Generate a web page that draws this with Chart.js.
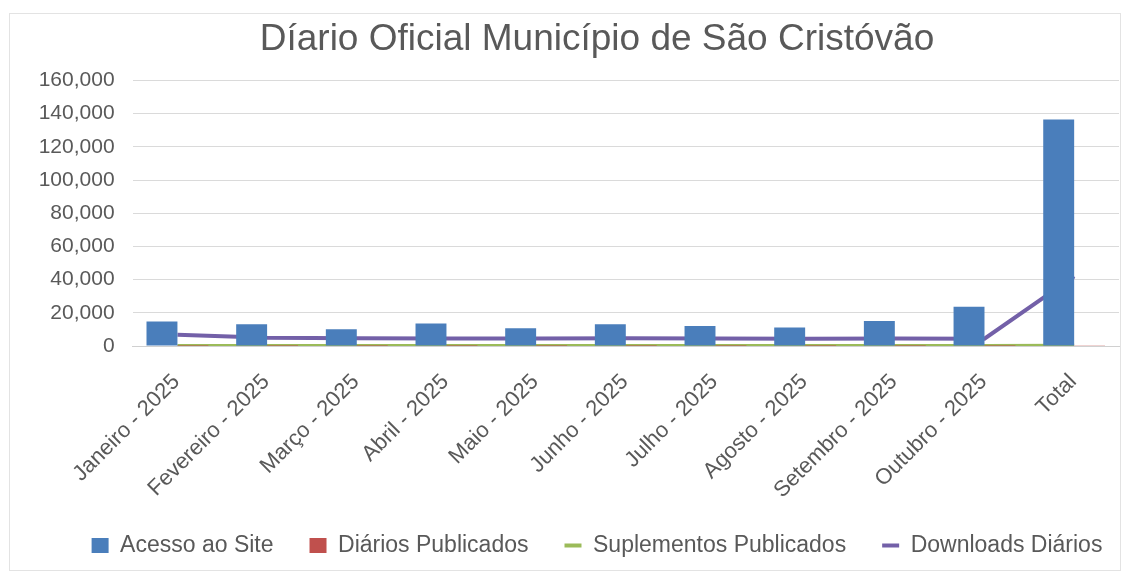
<!DOCTYPE html>
<html>
<head>
<meta charset="utf-8">
<script src="https://cdn.jsdelivr.net/npm/chart.js@4"></script>
<style>
  html, body { margin: 0; padding: 0; background: #fff; overflow: hidden; }
  #frame {
    position: absolute; left: 9px; top: 13px; width: 1112px; height: 558px;
    border: 1px solid #e3e3e3; box-sizing: border-box;
  }
  /* canvas runs past the right edge of the window so title and legend centre where the original has them */
  #wrap { position: absolute; left: 0; top: 0; width: 1194px; height: 575px; }
</style>
</head>
<body>
<div id="frame"></div>
<div id="wrap"><canvas id="chart"></canvas></div>
<script>
// categories
const months = [
  'Janeiro - 2025', 'Fevereiro - 2025', 'Março - 2025', 'Abril - 2025',
  'Maio - 2025', 'Junho - 2025', 'Julho - 2025', 'Agosto - 2025',
  'Setembro - 2025', 'Outubro - 2025', 'Total'
];

// series values
const acessoSite = [14700, 13100, 10100, 13500, 10700, 13100, 12100, 11100, 15100, 23600, 136500];
const diariosPublicados = [22, 20, 21, 20, 22, 21, 23, 21, 22, 24, 216];
const suplementosPublicados = [12, 10, 11, 9, 12, 10, 11, 10, 12, 13, 110];
const downloadsDiarios = [6800, 4900, 4600, 4500, 4500, 4600, 4500, 4400, 4500, 4400, 42000];

// y axis ticks
const yTicks = [0, 20000, 40000, 60000, 80000, 100000, 120000, 140000, 160000];

const textGray = '#595959';
const font = 'Liberation Sans, Arial, sans-serif';

new Chart(document.getElementById('chart'), {
  type: 'bar',
  data: {
    labels: months,
    datasets: [
      {
        label: 'Acesso ao Site',
        data: acessoSite,
        backgroundColor: '#4a7ebb',
        order: 0,
        pointStyle: 'rect'
      },
      {
        label: 'Diários Publicados',
        data: diariosPublicados,
        backgroundColor: '#c0504d',
        order: 0,
        pointStyle: 'rect'
      },
      {
        type: 'line',
        label: 'Suplementos Publicados',
        data: suplementosPublicados,
        borderColor: '#9bbb59',
        backgroundColor: '#9bbb59',
        borderWidth: 4,
        pointRadius: 0,
        pointStyle: 'line',
        tension: 0,
        order: 1
      },
      {
        type: 'line',
        label: 'Downloads Diários',
        data: downloadsDiarios,
        borderColor: '#7360a8',
        backgroundColor: '#7360a8',
        borderWidth: 4,
        pointRadius: 0,
        pointStyle: 'line',
        tension: 0,
        order: 1
      }
    ]
  },
  options: {
    responsive: true,
    maintainAspectRatio: false,
    animation: false,
    datasets: {
      bar: {
        categoryPercentage: 0.69,
        barPercentage: 1.0
      }
    },
    layout: {
      padding: { top: 10, left: 10, right: 10, bottom: 8 }
    },
    plugins: {
      title: {
        display: true,
        text: 'Díario Oficial Município de São Cristóvão',
        color: textGray,
        font: { family: font, size: 37, weight: 'normal' },
        padding: { top: 8, bottom: 18 }
      },
      legend: {
        position: 'bottom',
        labels: {
          color: textGray,
          font: { family: font, size: 23 },
          usePointStyle: true,
          pointStyleWidth: 17,
          boxHeight: 15,
          padding: 36
        }
      },
      tooltip: { enabled: false }
    },
    scales: {
      x: {
        grid: { display: false, drawTicks: false },
        border: { display: true, color: '#d0d0d0', width: 1 },
        ticks: {
          color: textGray,
          font: { family: font, size: 22 },
          minRotation: 45,
          maxRotation: 45,
          padding: 23,
          labelOffset: -1,
          autoSkip: false
        },
        afterFit: (scale) => { scale.height = 152; }
      },
      y: {
        min: 0,
        max: 160000,
        afterBuildTicks: (scale) => { scale.ticks = yTicks.map(v => ({ value: v })); },
        grid: { color: '#dadada', drawTicks: false },
        border: { display: false },
        ticks: {
          color: textGray,
          font: { family: font, size: 21 },
          padding: 18,
          autoSkip: false,
          callback: (v) => v.toLocaleString('en-US')
        },
        afterFit: (scale) => { scale.width = 122.6; }
      },
      // empty spacer on the right: keeps the plot ending at x = 1119
      spacer: {
        type: 'linear',
        position: 'right',
        display: true,
        grid: { display: false, drawTicks: false },
        border: { display: false },
        ticks: { display: false },
        afterFit: (scale) => { scale.width = 65; }
      }
    }
  }
});
</script>
</body>
</html>
